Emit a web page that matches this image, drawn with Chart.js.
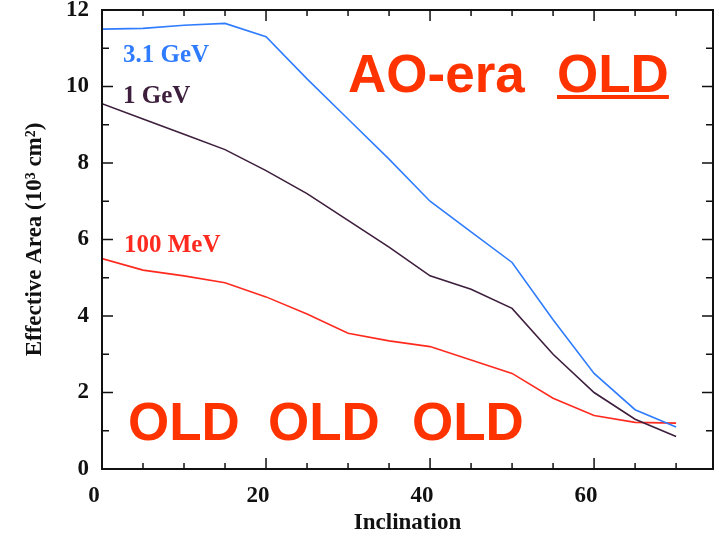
<!DOCTYPE html>
<html>
<head>
<meta charset="utf-8">
<script src="https://cdn.jsdelivr.net/npm/chart.js@4.4.1/dist/chart.umd.min.js"></script>
<style>
  html, body { margin: 0; padding: 0; background: #fff; }
  #chart { display: block; }
</style>
</head>
<body>
<canvas id="chart" width="719" height="537"></canvas>
<script>
    // values
    const inclination = [0, 5, 10, 15, 20, 25, 30, 35, 40, 45, 50, 55, 60, 65, 70];
    const area31GeV = [11.5, 11.52, 11.6, 11.65, 11.3, 10.2, 9.15, 8.1, 7.0, 6.2, 5.4, 3.9, 2.5, 1.55, 1.1];
    const area1GeV = [9.55, 9.15, 8.75, 8.35, 7.8, 7.2, 6.5, 5.8, 5.05, 4.7, 4.2, 3.0, 2.0, 1.3, 0.85];
    const area100MeV = [5.5, 5.2, 5.05, 4.87, 4.5, 4.05, 3.55, 3.35, 3.2, 2.85, 2.5, 1.85, 1.4, 1.22, 1.2];
    const seriesNames = ['3.1 GeV', '1 GeV', '100 MeV'];
    const seriesColors = ['#2f7cff', '#3d1f3d', '#ff2a1f'];
    const xTicks = [0, 20, 40, 60];
    const yTicks = [0, 2, 4, 6, 8, 10, 12];

    const ctx = document.getElementById('chart').getContext('2d');
    const serif = 'Liberation Serif, Times New Roman, serif';
    const stamp = '#ff3300';

    const toPoints = vals => vals.map((v, i) => ({ x: inclination[i], y: v }));

    const makeSet = (vals, i) => ({
      label: seriesNames[i],
      data: toPoints(vals),
      borderColor: seriesColors[i],
      borderWidth: 1.6,
      pointRadius: 0,
      tension: 0,
      fill: false
    });

    // frame with inward ticks on all four sides, plus the text labels
    const frameAndNotes = {
      id: 'frameAndNotes',
      afterDraw(chart) {
        const c = chart.ctx;
        const { left, right, top, bottom } = chart.chartArea;
        const xs = chart.scales.x, ys = chart.scales.y;
        c.save();
        c.strokeStyle = '#111';
        c.lineWidth = 2;
        c.strokeRect(left, top, right - left, bottom - top);
        c.lineWidth = 1.5;
        c.beginPath();
        for (let v = 5; v <= 70; v += 5) {
          const p = xs.getPixelForValue(v);
          const len = v % 20 === 0 ? 11 : 6;
          c.moveTo(p, bottom); c.lineTo(p, bottom - len);
          c.moveTo(p, top); c.lineTo(p, top + len);
        }
        for (let v = 1; v < 12; v++) {
          const p = ys.getPixelForValue(v);
          const len = v % 2 === 0 ? 11 : 7;
          c.moveTo(left, p); c.lineTo(left + len, p);
          c.moveTo(right, p); c.lineTo(right - len, p);
        }
        c.stroke();

        // curve labels
        c.font = 'bold 25px ' + serif;
        c.textBaseline = 'alphabetic';
        c.textAlign = 'left';
        const labelPos = [[123, 62], [123, 103], [124, 252]];
        seriesNames.forEach((name, i) => {
          c.fillStyle = seriesColors[i];
          c.fillText(name, labelPos[i][0], labelPos[i][1]);
        });

        // the big stamps
        c.fillStyle = stamp;
        c.font = 'bold 53px Liberation Sans, Arial, sans-serif';
        c.fillText('AO-era', 348, 92);
        c.fillText('OLD', 557, 92);
        const w = c.measureText('OLD').width;
        c.fillRect(557, 95, w, 4);
        [128, 268, 412].forEach(x => c.fillText('OLD', x, 440));
        c.restore();
      }
    };

    new Chart(ctx, {
      type: 'line',
      data: {
        datasets: [makeSet(area31GeV, 0), makeSet(area1GeV, 1), makeSet(area100MeV, 2)]
      },
      options: {
        responsive: false,
        animation: false,
        layout: { padding: { left: 0, top: 10, right: 6, bottom: 0 } },
        plugins: { legend: { display: false }, tooltip: { enabled: false } },
        scales: {
          x: {
            type: 'linear',
            min: 0,
            max: 74.5,
            afterFit: s => { s.height = 68; s.paddingLeft = 0; s.paddingRight = 0; },
            afterBuildTicks: s => { s.ticks = xTicks.map(v => ({ value: v })); },
            grid: { display: false },
            border: { display: false },
            ticks: {
              color: '#111',
              font: { family: serif, size: 23, weight: 'bold' },
              padding: 5,
              labelOffset: -8
            },
            title: {
              display: true,
              text: 'Inclination',
              color: '#111',
              font: { family: serif, size: 23, weight: 'bold' },
              padding: { top: 0, bottom: 0 }
            }
          },
          y: {
            min: 0,
            max: 12,
            afterFit: s => { s.width = 102; s.paddingTop = 0; s.paddingBottom = 0; },
            afterBuildTicks: s => { s.ticks = yTicks.map(v => ({ value: v })); },
            grid: { display: false },
            border: { display: false },
            ticks: {
              color: '#111',
              font: { family: serif, size: 23, weight: 'bold' },
              padding: 5
            },
            title: {
              display: true,
              text: 'Effective Area (10³ cm²)',
              color: '#111',
              font: { family: serif, size: 23, weight: 'bold' },
              padding: { top: 21, bottom: 0 }
            }
          }
        }
      },
      plugins: [frameAndNotes]
    });
</script>
</body>
</html>
